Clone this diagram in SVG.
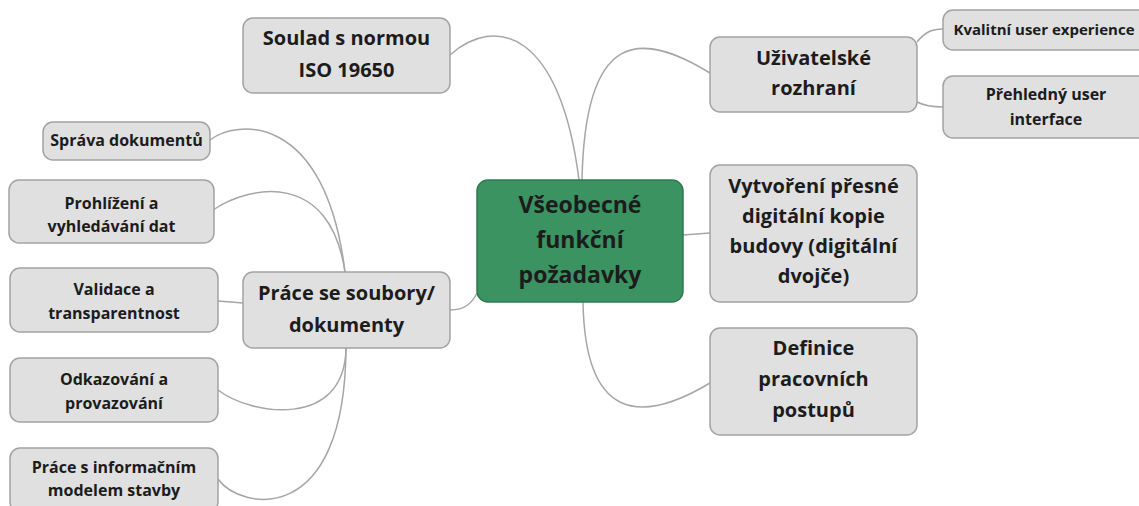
<svg xmlns="http://www.w3.org/2000/svg" width="1139" height="506" viewBox="0 0 1139 506">
<style>
.n rect{fill:#e0e0e0;stroke:#a3a3a3;stroke-width:1.5}
.c rect{fill:#3a9361;stroke:#2f7a50;stroke-width:1.5}
text{font-family:"Open Sans","Noto Sans","DejaVu Sans",sans-serif;font-weight:bold;fill:#1c1c1c;text-anchor:middle}
.t23{font-size:23px}
.t20{font-size:20px}
.t16{font-size:16px}
.t15{font-size:15px}
#connectors path{fill:none;stroke:#a6a6a6;stroke-width:1.5}
</style>
<g id="connectors">
<path d="M450 55 C495 15,560 30,579 180"/>
<path d="M582 180 C585 30,640 30,710 73"/>
<path d="M683 235 L710 233"/>
<path d="M583 302 C585 420,640 425,710 383"/>
<path d="M450 310 C465 310,472 303,477 293"/>
<path d="M917 42 C925 32,932 29,943 29"/>
<path d="M917 102 C925 106,932 107,943 107"/>
<path d="M210 140 C235 120,325 110,345 272"/>
<path d="M213 210 C250 185,330 170,345 272"/>
<path d="M218 301 L243 303"/>
<path d="M346 348 C345 430,250 415,218 390"/>
<path d="M346 348 C345 530,240 510,218 479"/>
</g>
<g id="center" class="c">
<rect x="477" y="180" width="206" height="122" rx="11"/>
<text class="t23" x="580" y="213">Všeobecné</text>
<text class="t23" x="580" y="248">funkční</text>
<text class="t23" x="580" y="283">požadavky</text>
</g>
<g id="soulad" class="n">
<rect x="243" y="18" width="207" height="75" rx="10"/>
<text class="t20" x="346.5" y="45">Soulad s normou</text>
<text class="t20" x="346.5" y="77">ISO 19650</text>
</g>
<g id="uzivatelske" class="n">
<rect x="710" y="37" width="207" height="75" rx="10"/>
<text class="t20" x="813.5" y="65">Uživatelské</text>
<text class="t20" x="813.5" y="95">rozhraní</text>
</g>
<g id="kvalitni" class="n">
<rect x="943" y="10" width="207" height="40" rx="10"/>
<text class="t15" x="1044" y="35">Kvalitní user experience</text>
</g>
<g id="prehledny" class="n">
<rect x="943" y="76" width="207" height="62" rx="10"/>
<text class="t16" x="1046" y="100">Přehledný user</text>
<text class="t16" x="1046" y="125">interface</text>
</g>
<g id="vytvoreni" class="n">
<rect x="710" y="165" width="207" height="137" rx="10"/>
<text class="t20" x="813.5" y="193">Vytvoření přesné</text>
<text class="t20" x="813.5" y="223">digitální kopie</text>
<text class="t20" x="813.5" y="253">budovy (digitální</text>
<text class="t20" x="813.5" y="283">dvojče)</text>
</g>
<g id="definice" class="n">
<rect x="710" y="328" width="207" height="107" rx="10"/>
<text class="t20" x="813.5" y="355">Definice</text>
<text class="t20" x="813.5" y="386">pracovních</text>
<text class="t20" x="813.5" y="417">postupů</text>
</g>
<g id="prace" class="n">
<rect x="243" y="272" width="207" height="76" rx="10"/>
<text class="t20" x="346.5" y="300">Práce se soubory/</text>
<text class="t20" x="346.5" y="332">dokumenty</text>
</g>
<g id="sprava" class="n">
<rect x="43" y="122" width="167" height="38" rx="10"/>
<text class="t16" x="126.5" y="146">Správa dokumentů</text>
</g>
<g id="prohlizeni" class="n">
<rect x="9" y="180" width="205" height="63" rx="10"/>
<text class="t16" x="111.5" y="209">Prohlížení a</text>
<text class="t16" x="111.5" y="232">vyhledávání dat</text>
</g>
<g id="validace" class="n">
<rect x="10" y="268" width="208" height="64" rx="10"/>
<text class="t16" x="114" y="295">Validace a</text>
<text class="t16" x="114" y="319">transparentnost</text>
</g>
<g id="odkazovani" class="n">
<rect x="10" y="358" width="208" height="64" rx="10"/>
<text class="t16" x="114" y="385">Odkazování a</text>
<text class="t16" x="114" y="409">provazování</text>
</g>
<g id="informacni" class="n">
<rect x="10" y="448" width="208" height="64" rx="10"/>
<text class="t16" x="114" y="473">Práce s informačním</text>
<text class="t16" x="114" y="496">modelem stavby</text>
</g>
</svg>
